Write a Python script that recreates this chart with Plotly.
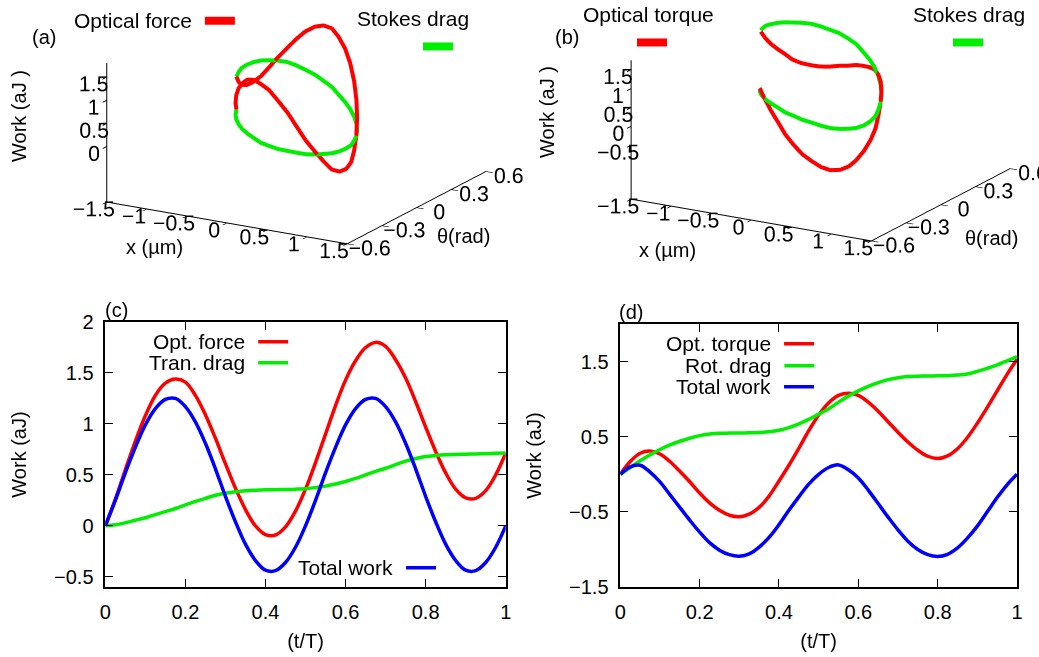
import plotly.graph_objects as go

# ---------------- data ----------------
T = [0.0, 0.025, 0.05, 0.075, 0.1, 0.125, 0.15, 0.175, 0.2, 0.225, 0.25, 0.275, 0.3, 0.325,
     0.35, 0.375, 0.4, 0.425, 0.45, 0.475, 0.5, 0.525, 0.55, 0.575, 0.6, 0.625, 0.65, 0.675,
     0.7, 0.725, 0.75, 0.775, 0.8, 0.825, 0.85, 0.875, 0.9, 0.925, 0.95, 0.975, 1.0]

# trajectory (position x in um, angle theta in rad) over one period
X_POS = [-0.95, -0.86, -0.75, -0.62, -0.47, -0.32, -0.15, 0.02, 0.18, 0.35, 0.50, 0.64, 0.77, 0.88,
         0.96, 1.02, 1.06, 1.07, 1.06, 1.01, 0.95, 0.86, 0.75, 0.62, 0.47, 0.32, 0.15, -0.02,
         -0.18, -0.35, -0.50, -0.64, -0.77, -0.88, -0.96, -1.02, -1.06, -1.07, -1.06, -1.01, -0.95]
THETA = [0.14, 0.07, 0.0, -0.07, -0.14, -0.20, -0.26, -0.32, -0.36, -0.40, -0.42, -0.44, -0.45, -0.44,
         -0.42, -0.40, -0.36, -0.31, -0.26, -0.20, -0.14, -0.07, 0.0, 0.07, 0.14, 0.20, 0.26, 0.32,
         0.36, 0.40, 0.42, 0.44, 0.45, 0.44, 0.42, 0.40, 0.36, 0.31, 0.26, 0.20, 0.14]

# panel (c): translational work (aJ)
C_FORCE = [0.0, 0.26, 0.55, 0.83, 1.08, 1.28, 1.40, 1.44, 1.41, 1.28, 1.09, 0.86, 0.61, 0.37,
           0.16, 0.0, -0.085, -0.09, -0.01, 0.145, 0.36, 0.62, 0.90, 1.18, 1.43, 1.62, 1.75, 1.80,
           1.76, 1.63, 1.45, 1.22, 0.97, 0.73, 0.52, 0.36, 0.275, 0.27, 0.345, 0.50, 0.715]
C_DRAG = [0.0, 0.01, 0.03, 0.055, 0.08, 0.11, 0.14, 0.17, 0.205, 0.24, 0.27, 0.30, 0.32, 0.335,
          0.345, 0.35, 0.353, 0.355, 0.357, 0.36, 0.365, 0.375, 0.39, 0.41, 0.435, 0.465, 0.50, 0.535,
          0.565, 0.60, 0.635, 0.66, 0.68, 0.69, 0.697, 0.70, 0.703, 0.705, 0.708, 0.712, 0.715]
C_TOTAL = [0.0, 0.25, 0.52, 0.77, 0.99, 1.15, 1.24, 1.25, 1.17, 1.02, 0.81, 0.56, 0.29, 0.04,
           -0.18, -0.34, -0.435, -0.44, -0.36, -0.21, 0.0, 0.25, 0.52, 0.77, 0.99, 1.15, 1.24, 1.25,
           1.17, 1.02, 0.81, 0.56, 0.29, 0.04, -0.18, -0.34, -0.435, -0.44, -0.36, -0.21, 0.0]

# panel (d): rotational work (aJ)
D_TORQUE = [0.0, 0.17, 0.28, 0.31, 0.27, 0.17, 0.04, -0.10, -0.25, -0.38, -0.48, -0.545, -0.565, -0.53,
            -0.44, -0.29, -0.09, 0.12, 0.345, 0.58, 0.79, 0.95, 1.05, 1.08, 1.05, 0.96, 0.84, 0.70,
            0.56, 0.43, 0.32, 0.24, 0.21, 0.245, 0.34, 0.49, 0.68, 0.89, 1.11, 1.33, 1.53]
D_DRAG = [0.0, 0.09, 0.18, 0.26, 0.33, 0.39, 0.44, 0.48, 0.515, 0.535, 0.545, 0.548, 0.55, 0.552,
          0.555, 0.565, 0.585, 0.62, 0.67, 0.73, 0.80, 0.87, 0.96, 1.04, 1.11, 1.17, 1.22, 1.26,
          1.285, 1.30, 1.305, 1.308, 1.31, 1.312, 1.32, 1.335, 1.37, 1.41, 1.455, 1.51, 1.565]
D_TOTAL = [0.0, 0.10, 0.12, 0.03, -0.10, -0.27, -0.44, -0.61, -0.77, -0.91, -1.01, -1.07, -1.09, -1.06,
           -0.97, -0.84, -0.67, -0.48, -0.30, -0.13, 0.0, 0.09, 0.125, 0.06, -0.05, -0.21, -0.39, -0.57,
           -0.74, -0.89, -1.00, -1.07, -1.095, -1.065, -0.98, -0.85, -0.69, -0.50, -0.31, -0.14, 0.0]

T_TICKS = [0, 0.2, 0.4, 0.6, 0.8, 1]
C_YTICKS = [-0.5, 0, 0.5, 1, 1.5, 2]
D_YTICKS = [-1.5, -0.5, 0.5, 1.5]
X3_TICKS = [-1.5, -1, -0.5, 0, 0.5, 1, 1.5]
TH3_TICKS = [-0.6, -0.3, 0, 0.3, 0.6]
A_ZTICKS = [0, 0.5, 1, 1.5]
B_ZTICKS = [-0.5, 0, 0.5, 1, 1.5]

RED, GREEN, BLUE = "#ff0000", "#00ee00", "#0000ff"
FONT = "Liberation Sans, Arial, Helvetica, sans-serif"
W, H = 1039, 657


def px(xp):
    return xp / W


def py(yp):
    return 1 - yp / H


fig = go.Figure()

# ---------------- 3D panels ----------------
def line3d(z, color, scene, legend):
    return go.Scatter3d(x=X_POS, y=THETA, z=z, mode="lines", line=dict(color=color, width=8),
                        scene=scene, legend=legend, name="", showlegend=True, hoverinfo="skip")

fig.add_trace(line3d(C_FORCE, RED, "scene", "legend"))
fig.add_trace(line3d(C_DRAG, GREEN, "scene", "legend2"))
fig.add_trace(line3d(D_TORQUE, RED, "scene2", "legend3"))
fig.add_trace(line3d(D_DRAG, GREEN, "scene2", "legend4"))

# ---------------- 2D panels ----------------
def line2d(y, color, xa, ya, legend):
    return go.Scatter(x=T, y=y, mode="lines", line=dict(color=color, width=3.5, shape="spline"),
                      xaxis=xa, yaxis=ya, legend=legend, name="", showlegend=True, hoverinfo="skip")

fig.add_trace(line2d(C_FORCE, RED, "x", "y", "legend5"))
fig.add_trace(line2d(C_DRAG, GREEN, "x", "y", "legend6"))
fig.add_trace(line2d(C_TOTAL, BLUE, "x", "y", "legend7"))
fig.add_trace(line2d(D_TORQUE, RED, "x2", "y2", "legend8"))
fig.add_trace(line2d(D_DRAG, GREEN, "x2", "y2", "legend9"))
fig.add_trace(line2d(D_TOTAL, BLUE, "x2", "y2", "legend10"))

ax2d = dict(showline=True, linecolor="black", linewidth=1.5, mirror="ticks", ticks="inside",
            ticklen=8, tickwidth=1.2, tickcolor="black", showgrid=False, zeroline=False,
            tickfont=dict(size=20), ticklabelstandoff=6, automargin=False)

ax3d = dict(showbackground=False, showgrid=False, zeroline=False, showline=True, linecolor="black",
            linewidth=2, ticks="inside", ticklen=8, tickwidth=2, tickcolor="black", showspikes=False,
            tickangle=0, title=dict(text=""), tickfont=dict(size=16, family=FONT, color="black"))

# view: azimuth 30 deg, elevation ~17.5 deg, orthographic (as in the gnuplot original)
VIEW = (0.477, -0.826, 0.301)
RIGHT = (0.866, 0.5, 0.0)
UP = (-0.1506, 0.2607, 0.9537)
ASP = 1.85
SCALE = 156.0  # screen px per scene unit (approx.)


def camera(shift_right, shift_up):
    c = [-(shift_right / SCALE) * RIGHT[i] - (shift_up / SCALE) * UP[i] for i in range(3)]
    e = [c[i] + 1.9 * VIEW[i] for i in range(3)]
    return dict(projection=dict(type="orthographic"), up=dict(x=0, y=0, z=1),
                center=dict(x=c[0], y=c[1], z=c[2]), eye=dict(x=e[0], y=e[1], z=e[2]))


def leg(title, x, y, xanchor, yanchor, side, indent=0):
    return dict(title=dict(text=title, side=side, font=dict(size=21)), x=x, y=y, xanchor=xanchor,
                yanchor=yanchor, bgcolor="rgba(0,0,0,0)", borderwidth=0, font=dict(size=21),
                itemwidth=30, indentation=indent, itemclick=False, itemdoubleclick=False)


def note(text, x, y, angle=0):
    return dict(text=text, x=px(x), y=py(y), xref="paper", yref="paper", showarrow=False,
                xanchor="center", yanchor="middle", textangle=angle, font=dict(size=20))


fig.update_layout(
    width=W, height=H, autosize=False,
    margin=dict(l=0, r=0, t=0, b=0, pad=0, autoexpand=False),
    paper_bgcolor="white", plot_bgcolor="white",
    font=dict(family=FONT, size=20, color="black"),
    scene=dict(domain=dict(x=[px(40), px(545)], y=[py(300), 1.0]),
               xaxis=dict(range=[-1.5, 1.5], tickvals=X3_TICKS, **ax3d),
               yaxis=dict(range=[-0.6, 0.6], tickvals=TH3_TICKS, **ax3d),
               zaxis=dict(range=[-1.2, 1.8], tickvals=A_ZTICKS, **ax3d),
               aspectmode="manual", aspectratio=dict(x=ASP, y=ASP, z=0.525 * ASP),
               camera=camera(4, 34), dragmode=False),
    scene2=dict(domain=dict(x=[px(560), 1.0], y=[py(300), 1.0]),
                xaxis=dict(range=[-1.5, 1.5], tickvals=X3_TICKS, **ax3d),
                yaxis=dict(range=[-0.6, 0.6], tickvals=TH3_TICKS, **ax3d),
                zaxis=dict(range=[-1.93, 1.75], tickvals=B_ZTICKS, **ax3d),
                aspectmode="manual", aspectratio=dict(x=ASP, y=ASP, z=0.525 * ASP),
                camera=camera(22, 37), dragmode=False),
    xaxis=dict(domain=[px(105.3), px(505.7)], range=[0, 1], tickvals=T_TICKS, anchor="y",
               title=dict(text="(t/T)", standoff=12, font=dict(size=20)), **ax2d),
    yaxis=dict(domain=[py(587), py(322)], range=[-0.6, 2.0], tickvals=C_YTICKS, anchor="x",
               title=dict(text="Work (aJ)", standoff=22, font=dict(size=20)), **ax2d),
    xaxis2=dict(domain=[px(620.3), px(1017)], range=[0, 1], tickvals=T_TICKS, anchor="y2",
                title=dict(text="(t/T)", standoff=12, font=dict(size=20)), **ax2d),
    yaxis2=dict(domain=[py(587), py(324)], range=[-1.5, 2.0], tickvals=D_YTICKS, anchor="x2",
                title=dict(text="Work (aJ)", standoff=22, font=dict(size=20)), **ax2d),
    yaxis3=dict(overlaying="y", anchor="x", range=[-0.6, 2.0], tickvals=[0], showgrid=True,
                griddash="dot", gridcolor="#9a9a9a", gridwidth=1, showticklabels=False, ticks="",
                showline=False, zeroline=False),
    yaxis4=dict(overlaying="y2", anchor="x2", range=[-1.5, 2.0], tickvals=[0], showgrid=True,
                griddash="dot", gridcolor="#9a9a9a", gridwidth=1, showticklabels=False, ticks="",
                showline=False, zeroline=False),
    legend=leg("Optical force", px(72), py(21), "left", "middle", "left"),
    legend2=leg("Stokes drag", px(355), py(-1), "left", "top", "top", 63),
    legend3=leg("Optical torque", px(581), py(-5), "left", "top", "top", 51),
    legend4=leg("Stokes drag", px(911), py(-5), "left", "top", "top", 37),
    legend5=leg("Opt. force", px(299), py(342), "right", "middle", "left"),
    legend6=leg("Tran. drag", px(299), py(363), "right", "middle", "left"),
    legend7=leg("Total work", px(447), py(568), "right", "middle", "left"),
    legend8=leg("Opt. torque", px(825), py(344), "right", "middle", "left"),
    legend9=leg("Rot. drag", px(825), py(366), "right", "middle", "left"),
    legend10=leg("Total work", px(825), py(387), "right", "middle", "left"),
    annotations=[
        note("(a)", 44, 37), note("(b)", 567, 37), note("(c)", 116, 310), note("(d)", 631, 312),
        note("Work (aJ )", 19, 116, -90), note("Work (aJ )", 547, 112, -90),
        note("x (µm)", 154, 247), note("x (µm)", 667, 250),
        note("θ(rad)", 463, 236), note("θ(rad)", 991, 238),
    ],
)

fig.write_html("out.html", include_plotlyjs=True, config={"displayModeBar": False},
               post_script="document.body.style.margin='0px';")
